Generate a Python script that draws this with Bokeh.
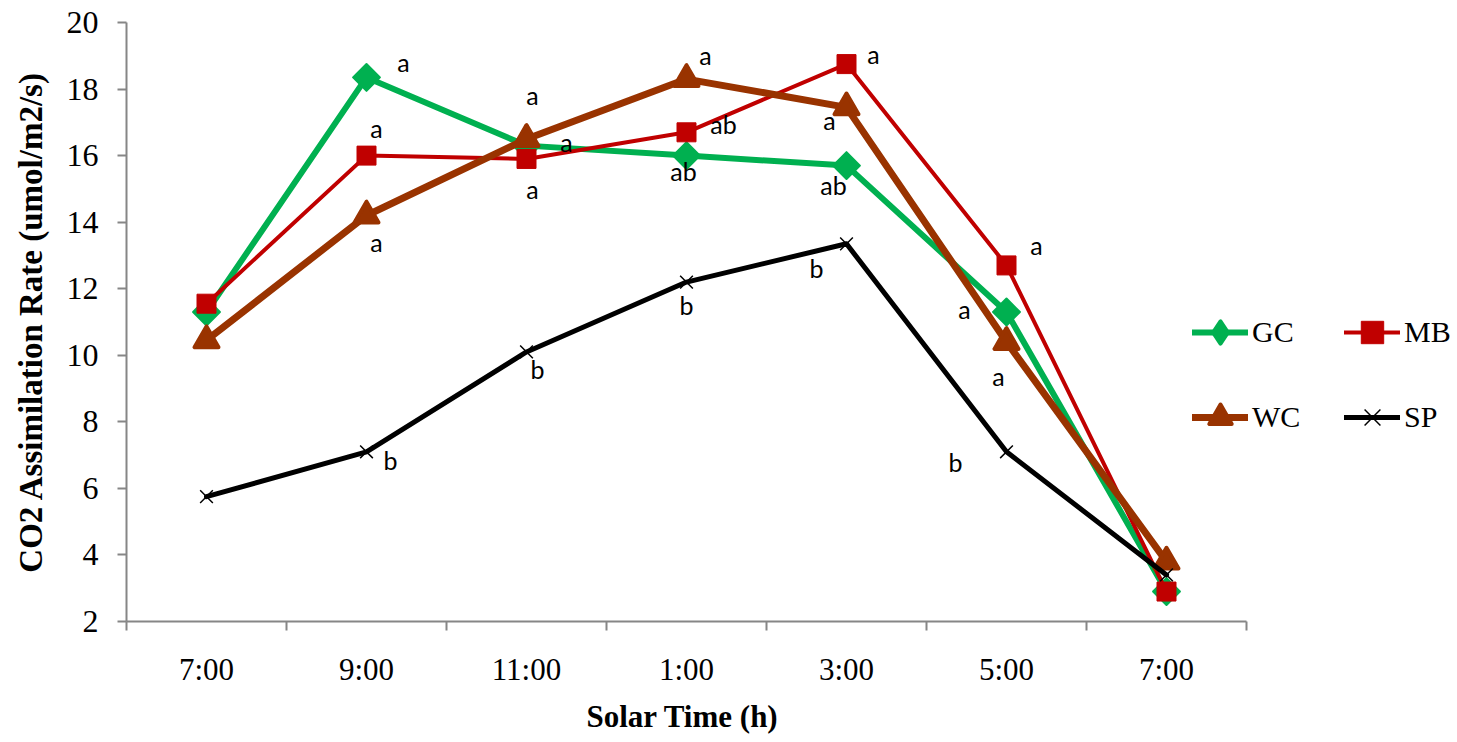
import math
from bokeh.plotting import figure
from bokeh.models import ColumnDataSource, FixedTicker, Legend, LegendItem, Range1d, Title
from bokeh.core.properties import value
from bokeh.embed import file_html
from bokeh.resources import INLINE

# ---- data ----
times = ["7:00", "9:00", "11:00", "1:00", "3:00", "5:00", "7:00"]
gc = [11.3, 18.35, 16.3, 16.0, 15.7, 11.3, 2.9]
mb = [11.55, 16.0, 15.9, 16.7, 18.75, 12.7, 2.9]
wc = [10.45, 14.2, 16.5, 18.3, 17.45, 10.4, 3.8]
sp = [5.75, 7.1, 10.1, 12.2, 13.35, 7.1, 3.4]

gc_letters = ["", "a", "a", "ab", "ab", "a", ""]
mb_letters = ["", "a", "a", "ab", "a", "a", ""]
wc_letters = ["", "a", "a", "a", "a", "a", ""]
sp_letters = ["", "b", "b", "b", "b", "b", ""]

# ---- label placement (screen px offsets from each point) ----
gc_dx = [0, 37, 40, -3, -13, -42, 0]
gc_dy = [0, -12, -1, 18, 22, 0, 0]
mb_dx = [0, 10, 6, 37, 27, 30, 0]
mb_dy = [0, -25, 33, -5, -7, -17, 0]
wc_dx = [0, 10, 6, 19, -17, -8, 0]
wc_dy = [0, 29, -41, -21, 16, 37, 0]
sp_dx = [0, 24, 11, 0, -30, -51, 0]
sp_dy = [0, 11, 20, 26, 27, 13, 0]
LETTER_SHIFT = -3

GREEN = "#00B050"
RED = "#C00000"
BROWN = "#993300"
BLACK = "#000000"
AXIS = "#868686"
SERIF = "Liberation Serif"

x = list(range(len(times)))

# layout: frame from px 126 to 1452, 160 px per category
W, H = 1452, 741
LEFT, TOP, BOTTOM = 126, 22, 119
PX_PER_CAT = 160.0
x_end = -0.5 + (W - LEFT) / PX_PER_CAT

p = figure(width=W, height=H, x_range=Range1d(-0.5, x_end),
           y_range=Range1d(2, 20), output_backend="svg", toolbar_location=None,
           min_border_left=LEFT, min_border_right=0, min_border_top=TOP,
           min_border_bottom=BOTTOM)
p.outline_line_color = None
p.xgrid.visible = False
p.ygrid.visible = False
p.background_fill_color = "white"
p.border_fill_color = "white"

# y axis
p.yaxis.ticker = FixedTicker(ticks=list(range(2, 21, 2)), minor_ticks=[])
p.yaxis.axis_line_color = AXIS
p.yaxis.axis_line_width = 2
p.yaxis.major_tick_line_color = AXIS
p.yaxis.major_tick_line_width = 2
p.yaxis.major_tick_in = 0
p.yaxis.major_tick_out = 9
p.yaxis.minor_tick_line_color = None
p.yaxis.major_label_text_font = SERIF
p.yaxis.major_label_text_font_size = "32px"
p.yaxis.major_label_text_color = "black"
p.yaxis.major_label_standoff = 19
p.yaxis.axis_label = "CO2 Assimilation Rate (umol/m2/s)"
p.yaxis.axis_label_text_font = SERIF
p.yaxis.axis_label_text_font_style = "bold"
p.yaxis.axis_label_text_font_size = "33px"
p.yaxis.axis_label_text_color = "black"
p.yaxis.axis_label_standoff = 15

# x axis (line limited to the category span)
p.xaxis.bounds = (-0.5, len(times) - 0.5)
p.xaxis.ticker = FixedTicker(ticks=x, minor_ticks=[i - 0.5 for i in range(len(times) + 1)])
p.xaxis.major_label_overrides = {i: t for i, t in enumerate(times)}
p.xaxis.axis_line_color = AXIS
p.xaxis.axis_line_width = 2
p.xaxis.major_tick_line_color = None
p.xaxis.major_tick_in = 0
p.xaxis.major_tick_out = 0
p.xaxis.minor_tick_line_color = AXIS
p.xaxis.minor_tick_line_width = 2
p.xaxis.minor_tick_in = 0
p.xaxis.minor_tick_out = 9
p.xaxis.major_label_text_font = SERIF
p.xaxis.major_label_text_font_size = "31px"
p.xaxis.major_label_text_color = "black"
p.xaxis.major_label_standoff = 21

# x title, centred over the category span (not the wider frame)
xtitle = Title(text="Solar Time (h)", align="left", offset=460, standoff=15,
               text_font=SERIF, text_font_style="bold", text_font_size="31px",
               text_color="black")
p.add_layout(xtitle, "below")

# series (GC legend diamond drawn first, hidden beneath the rotated squares)
s_gc_leg = p.scatter(x, gc, marker="diamond", size=20, fill_color=GREEN, line_color=GREEN,
                     line_width=4, line_join="round")
l_gc = p.line(x, gc, line_color=GREEN, line_width=6, line_join="round", line_cap="round")
s_gc = p.scatter(x, gc, marker="square", angle=math.pi / 4, size=19, fill_color=GREEN,
                 line_color=GREEN, line_width=2, line_join="round")
l_mb = p.line(x, mb, line_color=RED, line_width=4, line_join="round", line_cap="round")
s_mb = p.scatter(x, mb, marker="square", size=19, fill_color=RED, line_color=RED, line_width=1)
l_wc = p.line(x, wc, line_color=BROWN, line_width=7, line_join="round", line_cap="round")
s_wc = p.scatter(x, wc, marker="triangle", size=24, fill_color=BROWN, line_color=BROWN,
                 line_width=4, line_join="round")
l_sp = p.line(x, sp, line_color=BLACK, line_width=5, line_join="round", line_cap="round")
s_sp = p.scatter(x, sp, marker="x", size=18, line_color=BLACK, line_width=1.5)

# significance letters
lx, ly, lt, ldx, ldy = [], [], [], [], []
for vals, letters, dxs, dys in [(gc, gc_letters, gc_dx, gc_dy), (mb, mb_letters, mb_dx, mb_dy),
                                (wc, wc_letters, wc_dx, wc_dy), (sp, sp_letters, sp_dx, sp_dy)]:
    for i, (v, t) in enumerate(zip(vals, letters)):
        if t:
            lx.append(x[i]); ly.append(v); lt.append(t)
            ldx.append(dxs[i]); ldy.append(dys[i] + LETTER_SHIFT)
src = ColumnDataSource(dict(x=lx, y=ly, t=lt, dx=ldx, dy=ldy))
p.text(x="x", y="y", text="t", x_offset="dx", y_offset="dy", source=src,
       text_font=value("Lato"), text_font_size="25px", text_align="center",
       text_baseline="middle", text_color="black")

# legends (two columns)
def make_legend(items, loc):
    return Legend(items=items, location=loc, orientation="vertical",
                  glyph_width=56, glyph_height=60, spacing=25, padding=0, margin=0,
                  label_standoff=4, border_line_color=None, background_fill_alpha=0,
                  label_text_font=SERIF, label_text_font_size="30px",
                  label_text_baseline="middle", label_text_color="black")

leg1 = make_legend([LegendItem(label="GC", renderers=[l_gc, s_gc_leg]),
                    LegendItem(label="WC", renderers=[l_wc, s_wc])], (1066, 174))
leg2 = make_legend([LegendItem(label="MB", renderers=[l_mb, s_mb]),
                    LegendItem(label="SP", renderers=[l_sp, s_sp])], (1218, 174))
p.add_layout(leg1)
p.add_layout(leg2)

open("out.html", "w").write(file_html(p, INLINE))
